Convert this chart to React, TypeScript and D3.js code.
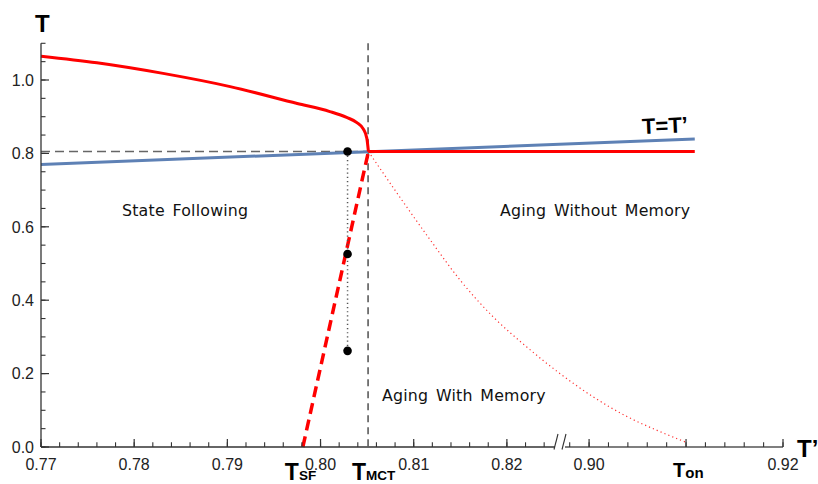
import React from 'react';
import * as d3 from 'd3';

const W = 818;
const H = 484;

// Axis ticks
const xMajorLeft = [0.77, 0.78, 0.79, 0.8, 0.81, 0.82];
const xMajorRight = [0.9, 0.91, 0.92];
const xLabelsLeft = ['0.77', '0.78', '0.79', '0.80', '0.81', '0.82'];
const xLabelsRight = ['0.90', '', '0.92'];
const yMajor = [0, 0.2, 0.4, 0.6, 0.8, 1.0];
const yLabels = ['0.0', '0.2', '0.4', '0.6', '0.8', '1.0'];

// Characteristic temperatures
const T_SF = 0.7981;
const T_MCT = 0.8051;
const T_ON = 0.91;
const T_PLATEAU = 0.805;

// Upper red curve (state following branch)
const upperCurve: [number, number][] = [
  [0.77, 1.065], [0.776, 1.047], [0.7831, 1.018], [0.7903, 0.982], [0.7975, 0.936],
  [0.801, 0.914], [0.8028, 0.898], [0.8039, 0.884], [0.8046, 0.866], [0.80497, 0.841],
  [0.80514, 0.805],
];
// Dashed red line down to T_SF
const dashedRed: [number, number][] = [[T_SF, 0], [0.80514, 0.805]];
// Red horizontal plateau
const plateau: [number, number][] = [[0.80514, T_PLATEAU], [0.9109, T_PLATEAU]];
// Blue T = T' line
const diagonal: [number, number][] = [[0.77, 0.77], [0.9109, 0.839]];
// Dotted red curve toward T_on
const dottedRed: [number, number][] = [
  [0.80514, 0.805], [0.80853, 0.68], [0.81175, 0.565], [0.81497, 0.455], [0.81851, 0.355],
  [0.82216, 0.272], [0.8256, 0.202], [0.9004, 0.137], [0.90391, 0.083], [0.90731, 0.042],
  [0.90989, 0.014],
];
// Black dots
const dotX = 0.8029;
const dotYs = [0.805, 0.526, 0.262];

const x = d3.scaleLinear().domain([0.77, 0.8257, 0.897, 0.92]).range([41, 560, 560, 783]);
const y = d3.scaleLinear().domain([0, 1.1]).range([447, 43.3]);

const line = d3.line<[number, number]>().x(d => x(d[0])).y(d => y(d[1]));
const smooth = d3.line<[number, number]>().x(d => x(d[0])).y(d => y(d[1])).curve(d3.curveMonotoneX);

const xMinorLeft = d3.range(0, 28).map(i => 0.77 + i * 0.002);
const xMinorRight = d3.range(0, 12).map(i => 0.898 + i * 0.002);
const yMinor = d3.range(0, 23).map(i => i * 0.05);

const font = '"Liberation Sans", Arial, Helvetica, sans-serif';
const labelFont = '"DejaVu Sans", Verdana, sans-serif';

export default function App() {
  const y0 = y(0);
  const axisColor = '#333';
  return (
    <svg width={W} height={H} style={{ position: 'absolute', left: 0, top: 0, background: '#fff' }}>
      {/* dashed reference lines */}
      <line x1={x(0.77)} x2={x(T_MCT)} y1={y(T_PLATEAU)} y2={y(T_PLATEAU)} stroke="#666" strokeWidth={1.5} strokeDasharray="9,5" />
      <line x1={x(T_MCT)} x2={x(T_MCT)} y1={y(1.1)} y2={y0} stroke="#111" strokeWidth={1.1} strokeDasharray="7,5" />

      {/* T = T' */}
      <path d={line(diagonal) || ''} fill="none" stroke="#5E81B5" strokeWidth={3} />

      {/* red curves */}
      <path d={smooth(dottedRed) || ''} fill="none" stroke="#FF3030" strokeWidth={1.2} strokeDasharray="1.2,3" />
      <path d={smooth(upperCurve) || ''} fill="none" stroke="#FF0000" strokeWidth={3} />
      <path d={line(dashedRed) || ''} fill="none" stroke="#FF0000" strokeWidth={3.5} strokeDasharray="11,6" />
      <path d={line(plateau) || ''} fill="none" stroke="#FF0000" strokeWidth={3} />

      {/* dotted vertical & dots */}
      <line x1={x(dotX)} x2={x(dotX)} y1={y(dotYs[0])} y2={y(dotYs[2])} stroke="#555" strokeWidth={1.5} strokeDasharray="1.2,3" />
      {dotYs.map((v, i) => (
        <circle key={i} cx={x(dotX)} cy={y(v)} r={4.3} fill="#000" />
      ))}

      {/* y axis */}
      <line x1={41} x2={41} y1={y(1.1)} y2={y0} stroke={axisColor} strokeWidth={1.3} />
      {yMinor.map((v, i) => (
        <line key={'ym' + i} x1={41} x2={45.5} y1={y(v)} y2={y(v)} stroke={axisColor} strokeWidth={1.1} />
      ))}
      {yMajor.map((v, i) => (
        <g key={'yM' + i}>
          <line x1={41} x2={49} y1={y(v)} y2={y(v)} stroke={axisColor} strokeWidth={1.2} />
          <text x={34} y={y(v) + 5.8} textAnchor="end" fontFamily={font} fontSize={16} fill="#222">{yLabels[i]}</text>
        </g>
      ))}

      {/* x axis with break */}
      <line x1={41} x2={555} y1={y0} y2={y0} stroke={axisColor} strokeWidth={1.3} />
      <line x1={565} x2={783} y1={y0} y2={y0} stroke="#555" strokeWidth={1.3} />
      <line x1={554} x2={558} y1={y0 + 2.5} y2={y0 - 13} stroke={axisColor} strokeWidth={1.1} />
      <line x1={562} x2={566} y1={y0 + 2.5} y2={y0 - 13} stroke={axisColor} strokeWidth={1.1} />
      {xMinorLeft.concat(xMinorRight).map((v, i) => (
        <line key={'xm' + i} x1={x(v)} x2={x(v)} y1={y0} y2={y0 - 4.7} stroke={axisColor} strokeWidth={1.1} />
      ))}
      {xMajorLeft.map((v, i) => (
        <g key={'xL' + i}>
          <line x1={x(v)} x2={x(v)} y1={y0} y2={y0 - 8} stroke={axisColor} strokeWidth={1.2} />
          <text x={x(v)} y={469.5} textAnchor="middle" fontFamily={font} fontSize={16} fill="#222">{xLabelsLeft[i]}</text>
        </g>
      ))}
      {xMajorRight.map((v, i) => (
        <g key={'xR' + i}>
          <line x1={x(v)} x2={x(v)} y1={y0} y2={y0 - 8} stroke={axisColor} strokeWidth={1.2} />
          <text x={x(v)} y={469.5} textAnchor="middle" fontFamily={font} fontSize={16} fill="#222">{xLabelsRight[i]}</text>
        </g>
      ))}

      {/* axis titles */}
      <text x={35} y={32} fontFamily={font} fontSize={24} fontWeight="bold" fill="#000">T</text>
      <text x={797} y={457} fontFamily={font} fontSize={24} fontWeight="bold" fill="#000">T’</text>
      <text x={642} y={133} fontFamily={font} fontSize={22} fontWeight="bold" fill="#000" transform="rotate(-2.5 666 125)">T=T’</text>

      {/* special temperature labels */}
      <text x={x(T_SF) - 18} y={479.5} fontFamily={font} fontWeight="bold" fill="#000">
        <tspan fontSize={23}>T</tspan><tspan fontSize={13.5} dy={0.5}>SF</tspan>
      </text>
      <text x={x(T_MCT) - 16} y={479.5} fontFamily={font} fontWeight="bold" fill="#000">
        <tspan fontSize={23}>T</tspan><tspan fontSize={13.5} dy={0.5}>MCT</tspan>
      </text>
      <text x={x(T_ON) - 13} y={477} fontFamily={font} fontWeight="bold" fill="#000">
        <tspan fontSize={20}>T</tspan><tspan fontSize={15} dy={1}>on</tspan>
      </text>

      {/* region labels */}
      <text x={122} y={216} fontFamily={labelFont} fontSize={15.8} fill="#111" letterSpacing={0.2} wordSpacing={2.5}>State Following</text>
      <text x={500} y={216} fontFamily={labelFont} fontSize={15.8} fill="#111" letterSpacing={0.2} wordSpacing={2.5}>Aging Without Memory</text>
      <text x={382} y={401} fontFamily={labelFont} fontSize={15.8} fill="#111" letterSpacing={0.2} wordSpacing={2.5}>Aging With Memory</text>
    </svg>
  );
}
